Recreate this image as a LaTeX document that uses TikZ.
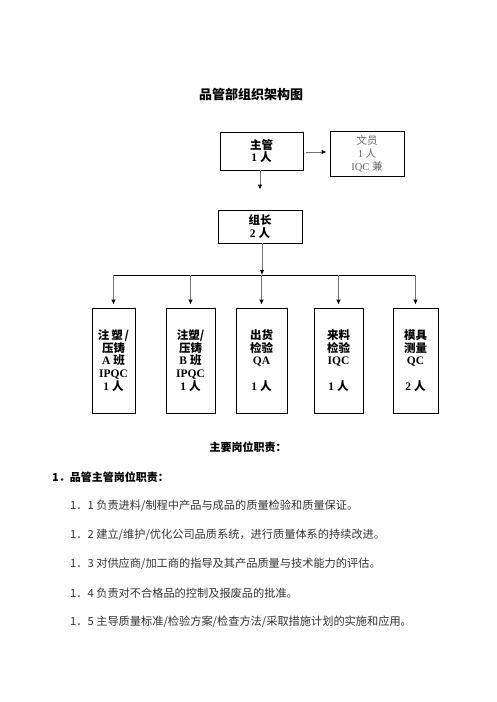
\documentclass[tikz,border=0pt]{standalone}
\usepackage{fontspec}
\setmainfont{Liberation Serif}
\newfontfamily\cj{Noto Sans CJK SC}
\usetikzlibrary{arrows.meta}

\begin{document}
\begin{tikzpicture}[x=1pt, y=-1pt,
    box/.style={rectangle, draw, line width=0.8pt, align=center, inner sep=1pt,
        font=\bfseries\fontsize{11.5}{12.8}\selectfont},
    arr/.style={draw=black!55, line width=1pt, -{Latex[length=5pt, width=4.5pt, color=black]}},
    bus/.style={draw=black, line width=0.8pt},
    head/.style={font=\cj\bfseries\fontsize{11}{13}\selectfont, inner sep=0pt},
    duty/.style={font=\cj\fontsize{11.2}{13}\selectfont, text=black!80, inner sep=0pt, anchor=west}]
    \useasboundingbox (0,0) rectangle (496,702);

    % Title
    \node[font=\cj\bfseries\fontsize{13}{15}\selectfont] (title) at (251,95) {品管部组织架构图};

    % Top boxes
    \node[box, minimum width=83, minimum height=38] (zhuguan) at (261.5,151) {{\cj 主管}\\1 {\cj 人}};
    \node[box, minimum width=74, minimum height=45, text=black!60, font=\fontsize{10.5}{13}\selectfont] (wenyuan) at (367,153.5) {{\cj 文员}\\1 {\cj 人}\\IQC {\cj 兼}};
    \node[box, minimum width=84, minimum height=33] (zuzhang) at (260,226.5) {{\cj 组长}\\2 {\cj 人}};

    % Group boxes
    \node[box, minimum width=43, minimum height=105] (b1) at (113.5,360.5) {{\cj 注\,塑\,/}\\{\cj 压铸}\\A {\cj 班}\\IPQC\\1 {\cj 人}};
    \node[box, minimum width=49, minimum height=105] (b2) at (190.5,360.5) {{\cj 注塑/}\\{\cj 压铸}\\B {\cj 班}\\IPQC\\1 {\cj 人}};
    \node[box, minimum width=51, minimum height=105] (b3) at (261.5,360.5) {{\cj 出货}\\{\cj 检验}\\QA\\\mbox{}\\1 {\cj 人}};
    \node[box, minimum width=49, minimum height=105] (b4) at (338.5,360.5) {{\cj 来料}\\{\cj 检验}\\IQC\\\mbox{}\\1 {\cj 人}};
    \node[box, minimum width=45, minimum height=105] (b5) at (415.5,360.5) {{\cj 模具}\\{\cj 测量}\\QC\\\mbox{}\\2 {\cj 人}};

    % Connections
    \draw[arr, shorten <=3pt, shorten >=3pt] (zhuguan.east |- 0,152) -- (wenyuan.west |- 0,152);
    \draw[arr, shorten >=20pt] (zhuguan.south -| 260,0) -- (zuzhang.north -| 260,0);
    \coordinate (hub) at (262,275);
    \draw[bus] (b1.north |- hub) -- (b5.north |- hub);
    \draw[arr] (zuzhang.south -| hub) -- (hub);
    \foreach \i in {1,...,5} {
        \draw[arr, shorten >=3pt] (b\i.north |- hub) -- (b\i.north);
    }

    % Duties
    \node[head] (duties) at (248,447) {主要岗位职责：};
    \node[head, anchor=west] (sec1) at (52,477) {1．品管主管岗位职责：};
    \foreach \t [count=\i] in {负责进料/制程中产品与成品的质量检验和质量保证。,
        建立/维护/优化公司品质系统，进行质量体系的持续改进。,
        对供应商/加工商的指导及其产品质量与技术能力的评估。,
        负责对不合格品的控制及报废品的批准。,
        主导质量标准/检验方案/检查方法/采取措施计划的实施和应用。} {
        \node[duty] (line\i) at (70,477+29*\i) {1．\i\ \t};
    }
\end{tikzpicture}
\end{document}
